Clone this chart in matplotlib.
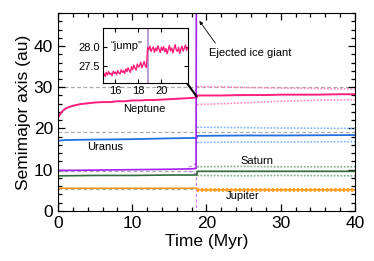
import matplotlib
matplotlib.use("Agg")
import matplotlib.pyplot as plt
import numpy as np
from matplotlib.ticker import MultipleLocator

plt.rcParams['font.family'] = ['Liberation Sans', 'DejaVu Sans']

# present-day semimajor axes (grey dashed references)
ref_a = [5.2, 9.58, 19.2, 30.1]

# Neptune
nep_t = [0, 0.3, 0.6, 1, 1.5, 2, 3, 4, 5, 6, 7, 8, 9, 10, 11, 12, 13, 14, 15, 16, 17, 18, 18.7,
         18.75, 20, 22, 25, 28, 30, 33, 35, 38, 40]
nep_a = [22.6, 23.5, 24.2, 24.8, 25.2, 25.5, 25.9, 26.1, 26.3, 26.4, 26.4, 26.6, 26.6, 26.8, 26.8, 26.9, 26.9, 27.0, 27.1, 27.2, 27.3, 27.4, 27.5,
         28.0, 28.0, 28.0, 28.1, 28.1, 28.2, 28.2, 28.2, 28.3, 28.3]
nep_dot_t = [18.75, 22, 26, 30, 34, 40]
nep_hi = [30.2, 30.1, 29.9, 29.8, 29.7, 29.6]
nep_lo = [25.8, 26.0, 26.3, 26.6, 26.8, 27.0]

# Uranus
ura_t = [0, 1, 5, 10, 15, 18.7, 18.75, 25, 30, 40]
ura_a = [17.0, 17.2, 17.3, 17.4, 17.6, 17.7, 18.2, 18.3, 18.3, 18.4]
ura_dot_t = [18.75, 25, 30, 40]
ura_hi = [20.3, 20.2, 20.1, 20.0]
ura_lo = [16.6, 16.7, 16.7, 16.8]

# ejected ice giant
ice_t = [0, 5, 10, 15, 18.0, 18.6, 18.65, 18.7]
ice_a = [9.8, 9.9, 10.0, 10.1, 10.2, 10.3, 60, 200]
ice_dot_t = [17.6, 18.0, 18.4, 18.65, 18.66]
ice_hi = [10.6, 10.9, 11.3, 11.6, 60]
ice_lo = [9.7, 9.4, 9.1, 8.8, 0]

# Saturn
sat_t = [0, 5, 10, 15, 18.7, 18.75, 25, 30, 40]
sat_a = [8.5, 8.6, 8.6, 8.7, 8.7, 9.6, 9.6, 9.6, 9.6]
sat_dot_t = [18.75, 25, 30, 40]
sat_hi = [10.7, 10.8, 10.7, 10.7]
sat_lo = [8.6, 8.5, 8.6, 8.5]

# Jupiter
jup_t = [0, 10, 18.7, 18.75, 30, 40]
jup_a = [5.5, 5.5, 5.5, 5.1, 5.1, 5.1]
jup_dot_t = [18.75, 40]
jup_hi = [5.3, 5.3]
jup_lo = [4.9, 4.9]

# inset: Neptune around the jump, 0.1 Myr sampling from 15.0 to 22.3
inset_a = [27.30, 27.22, 27.33, 27.26, 27.35, 27.28, 27.31, 27.24, 27.36, 27.30,
           27.34, 27.27, 27.38, 27.31, 27.29, 27.40, 27.33, 27.37, 27.30, 27.42,
           27.35, 27.45, 27.38, 27.33, 27.48, 27.40, 27.52, 27.44, 27.39, 27.55,
           27.47, 27.50, 27.60, 27.45, 27.53, 27.62, 27.50, 27.46,
           27.98, 27.92, 28.02, 27.88, 27.95, 28.00, 27.86, 27.97, 27.90, 28.03,
           27.94, 27.85, 27.99, 27.91, 28.01, 27.87, 27.96, 27.82, 27.93, 28.04,
           27.90, 27.97, 27.84, 27.95, 28.06, 27.92, 27.88, 27.99, 27.83, 27.94,
           28.02, 27.89, 27.96, 28.05, 27.91, 27.98]
inset_t = 15.0 + 0.1 * np.arange(len(inset_a))

c_nep = "#ff1f7a"
c_ura = "#2070e0"
c_ice = "#a31ff0"
c_sat = "#2f6b3c"
c_jup = "#ff9a1a"
dots = (0, (1, 1))

fig = plt.figure(figsize=(3.74, 2.61), dpi=100)
ax = fig.add_axes([0.155, 0.192, 0.794, 0.758])

for a in ref_a:
    ax.axhline(a, color="#aaaaaa", ls=(0, (3, 2)), lw=0.9, zorder=1)

ax.plot(nep_dot_t, nep_hi, color="#ff88bd", ls=dots, lw=1.2)
ax.plot(nep_dot_t, nep_lo, color="#ff88bd", ls=dots, lw=1.2)
ax.plot(ura_dot_t, ura_hi, color="#7fb2ff", ls=dots, lw=1.2)
ax.plot(ura_dot_t, ura_lo, color="#7fb2ff", ls=dots, lw=1.2)
ax.plot(sat_dot_t, sat_hi, color="#7fae88", ls=dots, lw=1.2)
ax.plot(sat_dot_t, sat_lo, color="#7fae88", ls=dots, lw=1.2)
ax.plot(jup_dot_t, jup_hi, color="#ffad45", ls=dots, lw=1.5)
ax.plot(jup_dot_t, jup_lo, color="#ffad45", ls=dots, lw=1.5)
ax.plot(ice_dot_t, ice_hi, color="#d07cf5", ls=(0, (3, 2)), lw=0.8)
ax.plot(ice_dot_t, ice_lo, color="#d07cf5", ls=(0, (3, 2)), lw=0.8)

ax.plot(jup_t, jup_a, color=c_jup, lw=1.2)
ax.plot(sat_t, sat_a, color=c_sat, lw=1.2)
ax.plot(ura_t, ura_a, color=c_ura, lw=1.3)
ax.plot(nep_t, nep_a, color=c_nep, lw=1.4)
ax.plot(ice_t, ice_a, color=c_ice, lw=1.2)

ax.set_xlim(0, 40)
ax.set_ylim(0, 48)
ax.xaxis.set_major_locator(MultipleLocator(10))
ax.xaxis.set_minor_locator(MultipleLocator(2))
ax.yaxis.set_major_locator(MultipleLocator(10))
ax.yaxis.set_minor_locator(MultipleLocator(2))
ax.tick_params(which="both", direction="in", top=True, right=True, labelsize=12.5, width=0.9)
ax.tick_params(which="major", length=5)
ax.tick_params(which="minor", length=3)
ax.set_xlabel("Time (Myr)", fontsize=12.5, labelpad=2)
ax.set_ylabel("Semimajor axis (au)", fontsize=12.5, labelpad=2)

ax.text(11.6, 24.6, "Neptune", fontsize=8, ha="center", va="center")
ax.text(6.4, 15.6, "Uranus", fontsize=8, ha="center", va="center")
ax.text(26.8, 12.0, "Saturn", fontsize=8, ha="center", va="center")
ax.text(24.9, 3.7, "Jupiter", fontsize=8, ha="center", va="center")
ax.text(20.4, 38.3, "Ejected ice giant", fontsize=8, ha="left", va="center")

ax.annotate("", xy=(19.05, 46.1), xytext=(21.2, 40.7),
            arrowprops=dict(arrowstyle="-|>", color="black", lw=0.6, mutation_scale=5,
                            shrinkA=0, shrinkB=0))
ax.annotate("", xy=(16.3, 33.7), xytext=(18.65, 27.8),
            arrowprops=dict(arrowstyle="-|>", color="black", lw=1.5, mutation_scale=11,
                            shrinkA=0, shrinkB=0))

# inset
ins = fig.add_axes([0.275, 0.682, 0.227, 0.211])
ins.axvline(18.8, color="#b48cc8", lw=1.2)
ins.plot(inset_t, inset_a, color=c_nep, lw=1.0)
ins.set_xlim(14.9, 22.3)
ins.set_ylim(27.05, 28.5)
ins.set_xticks([16, 18, 20])
ins.set_yticks([27.5, 28.0])
ins.set_yticklabels(["27.5", "28.0"])
ins.tick_params(direction="in", labelsize=8, length=3, top=True, right=True, pad=2)
ins.text(15.6, 28.03, "\u201cjump\u201d", fontsize=8, ha="left", va="center")

fig.savefig("out.png", dpi=100, facecolor="white")
